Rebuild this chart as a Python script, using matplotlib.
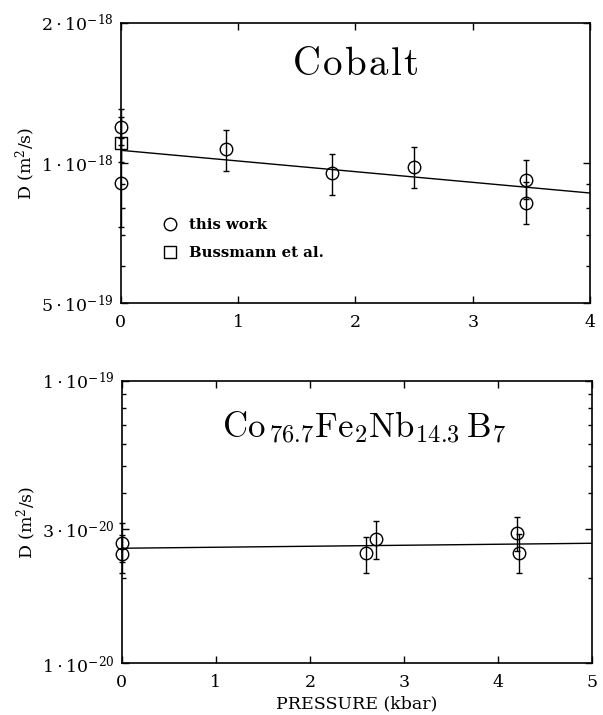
import numpy as np
import matplotlib
matplotlib.use("Agg")
from matplotlib import pyplot as plt
from matplotlib.ticker import FixedLocator, NullFormatter
from matplotlib.lines import Line2D

plt.rcParams['font.family'] = ['DejaVu Serif']
plt.rcParams['mathtext.fontset'] = 'dejavuserif'

# --- Cobalt (top panel) ---
p_co = [0, 0, 0.9, 1.8, 2.5, 3.45, 3.45]
D_co = [1.195e-18, 0.908e-18, 1.070e-18, 0.950e-18, 0.982e-18, 0.919e-18, 0.819e-18]
D_co_hi = [1.309e-18, 1.130e-18, 1.176e-18, 1.048e-18, 1.082e-18, 1.014e-18, 0.909e-18]
D_co_lo = [1.092e-18, 0.728e-18, 0.961e-18, 0.855e-18, 0.882e-18, 0.835e-18, 0.738e-18]

p_buss = [0]
D_buss = [1.104e-18]
D_buss_hi = [1.255e-18]
D_buss_lo = [1.005e-18]

fit_co_p = [0, 4]
fit_co_D = [1.065e-18, 0.862e-18]

# --- Co76.7Fe2Nb14.3B7 (bottom panel) ---
p_gl = [0, 0, 2.6, 2.7, 4.2, 4.22]
D_gl = [2.674e-20, 2.438e-20, 2.452e-20, 2.756e-20, 2.887e-20, 2.465e-20]
D_gl_hi = [3.133e-20, 2.847e-20, 2.808e-20, 3.19e-20, 3.29e-20, 2.87e-20]
D_gl_lo = [2.29e-20, 2.084e-20, 2.084e-20, 2.347e-20, 2.50e-20, 2.094e-20]

fit_gl_p = [0, 5]
fit_gl_D = [2.555e-20, 2.661e-20]

yt_co = [5e-19, 1e-18, 2e-18]
yt_co_lab = [r'$5\cdot10^{-19}$', r'$1\cdot10^{-18}$', r'$2\cdot10^{-18}$']
yt_co_minor = [6e-19, 7e-19, 8e-19, 9e-19]

yt_gl = [1e-20, 3e-20, 1e-19]
yt_gl_lab = [r'$1\cdot10^{-20}$', r'$3\cdot10^{-20}$', r'$1\cdot10^{-19}$']
yt_gl_minor = [2e-20, 4e-20, 5e-20, 6e-20, 7e-20, 8e-20, 9e-20]


def errbars(ax, x, y, hi, lo, marker, ms):
    y = np.array(y)
    yerr = [y - np.array(lo), np.array(hi) - y]
    ax.errorbar(x, y, yerr=yerr, fmt=marker, ms=ms, mfc='none', mec='k',
                mew=1.0, ecolor='k', elinewidth=1.0, capsize=2.2, capthick=1.0,
                zorder=3, clip_on=False)


def style(ax, xmax, yticks, ylabs, yminor, ylim):
    ax.set_yscale('log')
    ax.set_xlim(0, xmax)
    ax.set_ylim(*ylim)
    ax.set_xticks(range(xmax + 1))
    ax.yaxis.set_major_locator(FixedLocator(yticks))
    ax.set_yticklabels(ylabs)
    ax.yaxis.set_minor_locator(FixedLocator(yminor))
    ax.yaxis.set_minor_formatter(NullFormatter())
    ax.tick_params(which='both', direction='in', top=True, right=True,
                   labelsize=12.5, width=1.0)
    ax.tick_params(which='major', length=5)
    ax.tick_params(which='minor', length=3)
    ax.tick_params(axis='x', pad=8)
    ax.tick_params(axis='y', pad=5)
    for s in ax.spines.values():
        s.set_linewidth(1.2)
    ax.set_ylabel(r'D (m$^2$/s)', fontsize=12.5, labelpad=2)


fig = plt.figure(figsize=(6.03, 7.15), dpi=100)
ax1 = fig.add_axes([0.200, 0.576, 0.779, 0.392])
ax2 = fig.add_axes([0.202, 0.0723, 0.780, 0.395])

# top panel
ax1.plot(fit_co_p, fit_co_D, color='k', lw=1.0, zorder=2)
errbars(ax1, p_co, D_co, D_co_hi, D_co_lo, 'o', 9)
errbars(ax1, p_buss, D_buss, D_buss_hi, D_buss_lo, 's', 8)
style(ax1, 4, yt_co, yt_co_lab, yt_co_minor, (5e-19, 2e-18))
ax1.text(0.499, 0.85,
         r'$\mathrm{C\hspace{0.07}o\hspace{0.07}b\hspace{0.07}a\hspace{0.07}l\hspace{0.07}t}$',
         transform=ax1.transAxes, ha='center', va='center', fontsize=28,
         math_fontfamily='cm')

handles = [Line2D([], [], ls='none', marker='o', ms=9, mfc='none', mec='k', mew=1.0),
           Line2D([], [], ls='none', marker='s', ms=8, mfc='none', mec='k', mew=1.0)]
ax1.legend(handles, ['this work', 'Bussmann et al.'], loc='center left',
           bbox_to_anchor=(0.045, 0.228), frameon=False, handletextpad=0.3,
           labelspacing=0.95, prop={'weight': 'bold', 'size': 10.7})

# bottom panel
ax2.plot(fit_gl_p, fit_gl_D, color='k', lw=1.0, zorder=2)
errbars(ax2, p_gl, D_gl, D_gl_hi, D_gl_lo, 'o', 9)
style(ax2, 5, yt_gl, yt_gl_lab, yt_gl_minor, (1e-20, 1e-19))
ax2.text(0.515, 0.835,
         r'$\mathrm{Co}_{\,76.7}\mathrm{Fe}_{2}\mathrm{Nb}_{14.3}\,\mathrm{B}_{7}$',
         transform=ax2.transAxes, ha='center', va='center', fontsize=25,
         math_fontfamily='cm')
ax2.set_xlabel('PRESSURE (kbar)', fontsize=12.5, labelpad=3)

fig.savefig('out.png', dpi=100)
